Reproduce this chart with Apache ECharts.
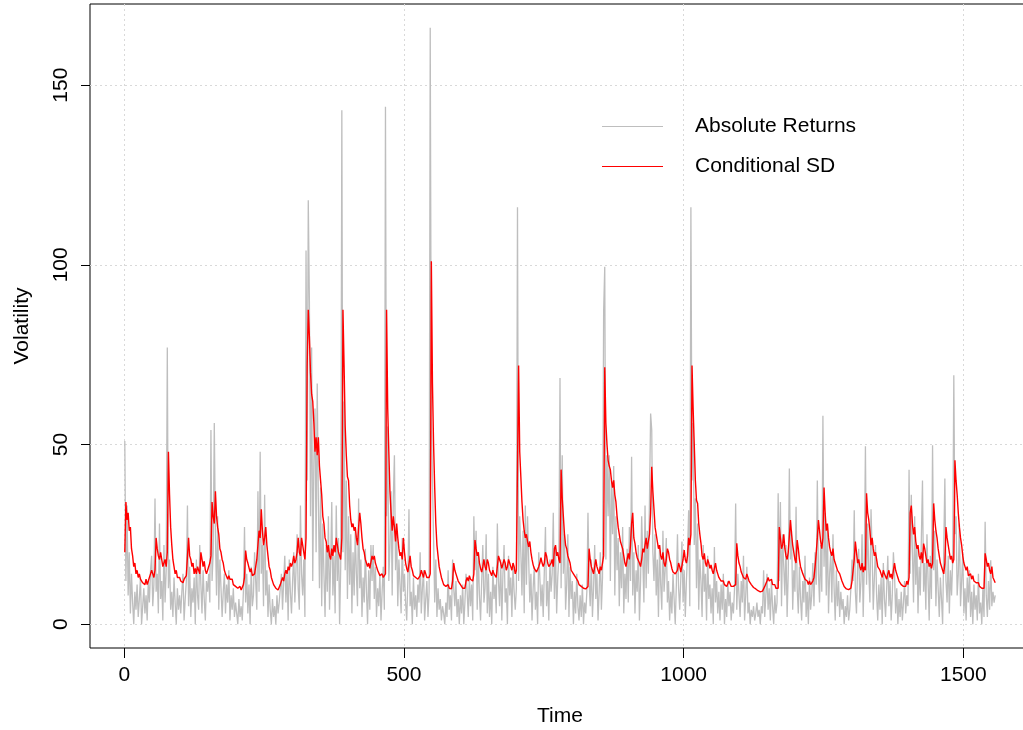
<!DOCTYPE html>
<html><head><meta charset="utf-8">
<script src="https://cdn.jsdelivr.net/npm/echarts@6/dist/echarts.min.js"></script>
<style>html,body{margin:0;padding:0;background:#fff}#c{width:1023px;height:730px}</style>
</head><body><div id="c"></div>
<script>
// time index of the first value and spacing between stored values
const startTime = 1, timeStep = 2;
// Absolute returns (grey)
const absReturns = [
51,12,33,8,20,3,14,6,0,9,4,11,2,7,13,0,5,10,3,8,1,12,6,15,19,
5,11,35,9,14,3,28,7,12,1,22,6,15,77,10,18,4,9,2,13,6,0,10,4,8,
3,9,14,1,7,12,33,5,16,2,10,6,13,0,18,8,4,22,11,3,15,7,1,12,9,
14,6,54,12,20,56,25,8,30,4,18,10,2,9,14,3,11,6,15,1,8,4,10,2,6,
3,0,7,2,5,1,9,27,6,14,3,11,0,16,5,8,20,12,4,37,9,48,14,22,5,
36,8,15,2,11,4,0,7,2,5,0,8,3,6,10,14,4,12,19,6,15,1,18,9,3,
12,20,6,15,25,10,4,33,14,8,18,2,104,40,118,90,30,77,12,45,60,20,67,35,10,
38,5,28,14,2,22,9,30,4,17,34,8,19,3,33,12,24,0,16,143,20,62,15,40,7,
30,11,25,3,20,8,26,14,5,35,10,18,2,13,6,21,9,0,15,4,22,12,22,7,16,
2,10,5,14,1,9,16,4,144,30,55,12,22,37,8,35,47,15,26,5,18,11,3,24,9,
14,6,1,12,32,5,9,0,13,4,8,2,11,6,20,3,10,15,1,7,12,2,9,166,57,
40,24,6,18,2,10,4,7,1,5,3,0,6,2,15,4,8,1,18,10,5,12,2,7,0,
8,3,11,0,6,14,9,2,13,5,11,1,30,15,26,4,20,8,1,12,22,6,10,25,3,
14,2,9,0,16,7,11,3,28,12,5,18,1,14,22,6,10,0,19,8,13,2,17,9,4,
10,116,12,30,20,8,26,3,33,11,30,18,6,14,1,10,16,4,9,0,20,13,5,11,2,
15,27,5,12,1,18,9,14,31,7,21,3,13,19,68.5,10,47,14,25,4,11,25,2,16,7,
12,0,9,3,14,5,1,8,2,11,0,6,3,9,31,12,5,18,2,10,22,7,14,1,9,
20,4,13,87,99.5,18,47,30,47,12,40,25,44,8,30,15,24,5,20,10,27,3,14,7,21,
6,27,12,46.6,8,20,3,15,9,22,1,12,30,18,6,33,10,26,14,35,58.6,54,20,12,25,
8,18,2,22,11,4,26,9,15,24,6,12,1,9,3,14,7,0,11,25,10,4,13,23,6,
15,2,12,20,31.7,5,116,40,56,22,35,10,28,4,18,12,2,22,9,14,1,19,7,11,3,
10,0,21.5,6,12,3,9,1,11,4,14,0,7,2,12,5,9,1,6,3,10,33.6,4,14,8,
2,12,6,19,1,8,16,3,6,0,4,2,5,1,3,6,2,4,0,5,3,15,2,8,14,
4,10,1,12,5,0,8,3,6,36.4,12,34,5,25,16,8,22,2,14,43.3,18,26,4,15,9,
32.7,10,3,16,7,1,12,6,19,2,9,0,13,4,8,17,5,20,11,40,14,6,22,9,58,
16,31,8,27,3,14,20,6,25,10,1,15,5,12,2,9,4,7,0,5,2,8,1,4,10,
18,12,31.7,9,3,16,21,6,12,25,2,17,49.5,11,28,15,6,32,20,4,13,22,8,1,11,
4,13,0,17,7,2,10,19,5,12,1,8,20,14,3,10,0,7,2,9,1,6,12,3,8,
5,43,14,36,20,6,30,11,22,3,16,8,24,40,9,17,4,25,12,1,19,7,49.8,15,26,
5,18,10,2,13,7,0,21,40.5,12,6,19,3,15,8,18,69.3,25,30,8,14,28,5,12,20,
3,10,1,13,6,15,2,9,0,11,4,8,1,14,3,6,0,10,2,28.5,8,2,12,4,17.8,5,9,6,8
];
// Conditional SD (red)
const condSD = [
20,34,29,31,26,27,21,19,16,17,14,15,13,14,12.5,13,11.5,12,11,12.5,11,12,11.5,14,15,
14,13,15,24,21,19,18,20,18,16,17,18,16,20,48,36,27,22,18,16,14,15,13,12.5,13,
12,12.5,11.5,12.5,12,13.5,14,24,19,18,16,17,14,15.5,14,16,15,14,20,18,16,17.5,15,14,15,
15,17,19,34,30,28,37,30,27,25,21,20,18,17,15,14,13.5,12.5,13.5,12.5,12,12.5,11,11,10.5,
10.5,10,9.5,10.5,9.5,10,11,13,20.5,18,17,16.5,14.5,15.5,13.5,13,14,16,18,22,26,24,32,26,22,
24,27,22,19,16,15,13,12.5,11,11,10,10.2,9.5,10,11,12,13,12,14,15,14,16,15,17,16,
17,19,17,18,20,24,20,19,24,22,20,18,24,72,87.5,80,70,64,62,56,48,52,47,52,44,
40,36,30,28,24,23,20,22,19,18,21,19,22,20,24,22,20,19,18,24,87.5,72,55,47,41,
40,33,29,27,28,26,27,24,22,27,31,28,24,21,20,18,17,16,17,15.5,16,19,18,19,17,
16,15,15.5,13.5,13,14,13,12.5,14,87.5,60,48,37,31,26,30,27,23,28,24,21,19,20,18,24,
20,17,15.5,14.5,15,19,16,15,13.5,14,13,13.5,12.5,13,13.5,15,14,13,15,14,13,12.5,13,14,101,
67,50,38,28,22,19,16,14.5,13,12.5,11,11.5,10.5,10.5,11,10,10.2,9.8,12,17,15,14,13.5,12,12.5,
11,11.5,10,10.5,10,12,13,12,13.5,12.5,13,12,14,23.4,21,19,20,17,15.5,14.5,16,18,16,15,18,
17,15,15.5,13.5,15,14,14.5,13,16,19,18,17,15.5,16,18,17,15,16,18,17,16,15,17,16,14,
15,15,72,48,41,34,29,26,24,25,23,21.5,23,20,18,16.5,15.5,16,14.5,14,16,17,18.5,17,16,
17,20,19,17,16,15.5,17,18,16,21,22,19,20,18,17,43,35,30,25,22,21,19,18,17,15,
15,14,14.5,13,12.5,12,11,11.5,10.5,11,10,10.5,9.8,10,10.5,21,18,16,15,14,16,18,16,15,14,
16,15,17,19,71.5,56,50,45.6,44,43,40,38,40,36,34,30,27,25,23,22,21,19,17,16,18,
19.7,18,22,28,31,24,22.5,20,18.5,19,17,16,18,21,20,22,24,21,23,25,31,43.8,37,32,27,
25,23,21,22,19,18,20,17,16,18,21,20,18,17,15.5,14.5,15,14,13.5,15,17,16,14.5,15,18,
20.6,18,17,19,24,22,25,72,60,50,40,34.5,33.6,28,25,22.5,19,18,19.7,17,16,18,17,15.5,16.5,
15,14,13.5,17,15,14,13,13.5,12,11.5,12,11,11.5,10.5,11,12,11.5,10.5,11,10.5,10,11,22.5,19,17,
16,14.5,14,13,13.5,12.5,14,13,12,12.5,11,10.8,10.2,10.4,9.8,9.7,9.3,9.4,9,9.1,9.2,9,10.5,10,12,
13,12,11.5,12.5,11,10.5,11,10,9.5,10,27,24,21,22,25,21,19,18,20,20,29,25,22,20,18,
17,23.4,21,18,16,15,14,13.5,12.5,13,12,11,12,11,10.5,12,13,16,19.7,24,29,26,23,21,24,
38,31,26,28,24,21.5,20,19,21,18,17,17.5,15,15.5,14,13.5,12,11.5,10.5,10.3,9.8,9.9,9.6,9.5,10,
12,15,18,23,20,17,18,16,15,17,14.5,16,15,36.4,31,29,26,22,24,21,19,20,18,16,15.5,
15,14,13,15,14,13.5,12.5,14,15,13,14,12.5,15,17,15,14,13,12,11.5,11,11.5,10.5,11,10.5,12,
11,13,31,33,28,25,27,23,21,22,19,18,20,17,22.4,21,19,17,18,16,17,15.5,17,33.6,29,
26,24,21,19,17,16,15,14,17,27,24,22,20,18,19,17,18,45.6,40,36,31,27,24,22,19,
17,16,15,16,13.5,14,14,12.5,13.5,12,12.5,11.5,11,11.5,10.5,10.6,10,10.2,10,19.7,18,16,17,15,14,16,13,12.5,11.5
];
const xTicks = [0, 500, 1000, 1500];
const yTicks = [0, 50, 100, 150];
const seriesNames = ['Absolute Returns', 'Conditional SD'];
const seriesColors = ['#bebebe', '#ff0000'];

const times = absReturns.map((_, i) => startTime + i * timeStep);
const toPairs = arr => arr.map((v, i) => [times[i], v]);
const FONT = '"Liberation Sans", Arial, Helvetica, sans-serif';
const plain = v => String(v);

const chart = echarts.init(document.getElementById('c'), null, {renderer: 'canvas'});
chart.setOption({
  animation: false,
  backgroundColor: '#fff',
  textStyle: {fontFamily: FONT},
  grid: {left: 90, top: 4, width: 940, height: 644, outerBoundsMode: 'none', containLabel: false,
         show: true, borderColor: '#000', borderWidth: 1, backgroundColor: 'transparent'},
  xAxis: {
    type: 'value', min: -61.2, max: 1619.2,
    name: 'Time', nameLocation: 'middle', nameGap: 58,
    nameTextStyle: {fontSize: 21, color: '#000', fontFamily: FONT},
    axisLine: {show: false, onZero: false},
    axisTick: {show: true, customValues: xTicks, length: 10, lineStyle: {color: '#000', width: 1}},
    axisLabel: {customValues: xTicks, formatter: plain, fontSize: 21, color: '#000', margin: 17, fontFamily: FONT},
    splitLine: {show: true, lineStyle: {type: [2, 3], color: '#d9d9d9', width: 1}}
  },
  yAxis: {
    type: 'value', min: -6.64, max: 172.6,
    name: 'Volatility', nameLocation: 'middle', nameGap: 57, nameRotate: 90,
    nameTextStyle: {fontSize: 21, color: '#000', fontFamily: FONT},
    axisLine: {show: false, onZero: false},
    axisTick: {show: true, customValues: yTicks, length: 9, lineStyle: {color: '#000', width: 1}},
    axisLabel: {customValues: yTicks, formatter: plain, fontSize: 21, color: '#000', margin: 18, rotate: 90, fontFamily: FONT},
    splitLine: {show: true, lineStyle: {type: [2, 3], color: '#d9d9d9', width: 1}}
  },
  legend: {
    orient: 'vertical', left: 597, top: 111, icon: 'rect', itemWidth: 61, itemHeight: 1, itemGap: 19,
    selectedMode: false,
    data: seriesNames.map((n, i) => ({name: n, itemStyle: {color: seriesColors[i]}})),
    textStyle: {fontSize: 21, color: '#000', padding: [0, 0, 0, 27], fontFamily: FONT}
  },
  series: [
    {name: seriesNames[0], type: 'line', data: toPairs(absReturns), symbol: 'none', silent: true,
     color: seriesColors[0], itemStyle: {color: seriesColors[0]}, lineStyle: {color: seriesColors[0], width: 1.3}, z: 2},
    {name: seriesNames[1], type: 'line', data: toPairs(condSD), symbol: 'none', silent: true,
     color: seriesColors[1], itemStyle: {color: seriesColors[1]}, lineStyle: {color: seriesColors[1], width: 1.4}, z: 3}
  ]
});
</script>
</body></html>
